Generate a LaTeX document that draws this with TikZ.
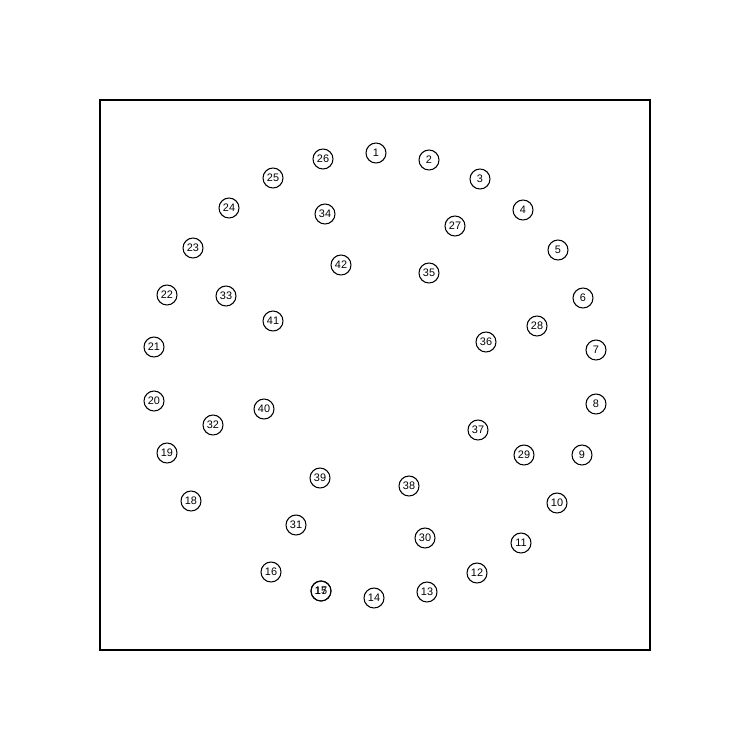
\documentclass[tikz,border=0pt]{standalone}
\usepackage{fontspec}
\setmainfont{Liberation Sans}
\begin{document}
\begin{tikzpicture}[
    x=0.02cm, y=-0.02cm,
    vtx/.style={circle, draw=black, line width=0.6pt, minimum size=0.4cm, inner sep=0pt, font=\fontsize{6.2}{7}\selectfont},
    frame/.style={draw=black, line width=0.6pt}
]
    % Canvas and frame
    \useasboundingbox (0,0) rectangle (751,751);
    \draw[frame] (100,100) rectangle (650,650);

    % Outer ring
    \foreach \n/\px/\py in {1/376/153, 2/429/160, 3/480/179, 4/523/210, 5/558/250,
        6/583/298, 7/596/350, 8/596/404, 9/582/455, 10/557/503, 11/521/543,
        12/477/573, 13/427/592, 14/374/598, 15/321/591, 16/271/572, 17/321/591,
        18/191/501, 19/167/453, 20/154/401, 21/154/347, 22/167/295, 23/193/248,
        24/229/208, 25/273/178, 26/323/159}
        \node[vtx] (v\n) at (\px,\py) {\n};

    % Inner ring
    \foreach \n/\px/\py in {27/455/226, 28/537/326, 29/524/455, 30/425/538,
        31/296/525, 32/213/425, 33/226/296, 34/325/214, 35/429/273, 36/486/342,
        37/478/430, 38/409/486, 39/320/478, 40/264/409, 41/273/321, 42/341/265}
        \node[vtx] (v\n) at (\px,\py) {\n};
\end{tikzpicture}
\end{document}
